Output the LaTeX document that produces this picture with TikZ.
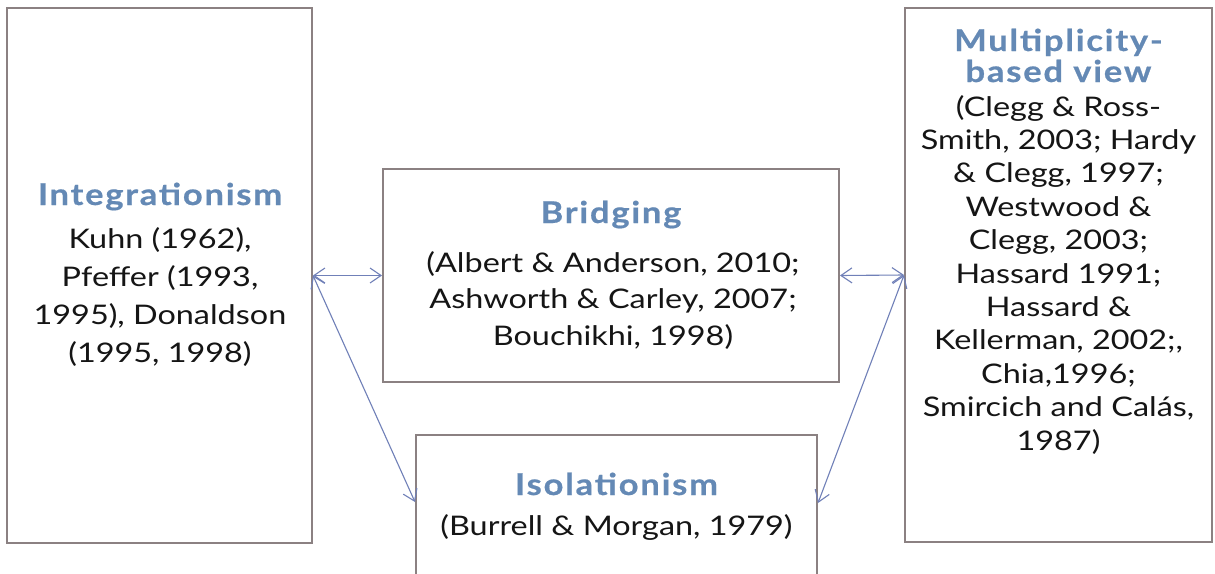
\documentclass[tikz,border=0pt]{standalone}
\usepackage{fontspec}
\setmainfont{Lato}[FakeStretch=1.2]
\newfontfamily\titlefont{Lato}[FakeStretch=1.15,LetterSpace=6,FakeBold=0.6]
\usetikzlibrary{arrows.meta}
\definecolor{boxc}{HTML}{8B8182}
\definecolor{titlec}{HTML}{6489B5}
\definecolor{arrowc}{HTML}{7080B8}
\definecolor{textc}{HTML}{151515}
\tikzset{
  box/.style={draw=boxc, line width=2pt, fill=white, inner sep=0pt},
  ttl/.style={anchor=base, align=center, text=titlec, inner sep=0pt,
              font={\titlefont\bfseries\fontsize{30}{31}\selectfont}},
  bodytxt/.style={anchor=base, align=center, text=textc, inner sep=0pt},
  conn/.style={draw=arrowc, line width=1.1pt,
    {Straight Barb[length=11pt,width=15pt]}-{Straight Barb[length=11pt,width=15pt]}}
}
\begin{document}
\begin{tikzpicture}[x=1pt,y=-1pt]
\useasboundingbox (0,0) rectangle (1215,573);
\clip (0,0) rectangle (1215,573);
\fill[white] (0,0) rectangle (1215,573);
% boxes
\node[box, minimum width=305pt, minimum height=535pt] (lb) at (159.5,275.5) {};
\node[box, minimum width=456pt, minimum height=213pt] (br) at (611,275.5) {};
\node[box, minimum width=307pt, minimum height=534pt] (rb) at (1058.5,275) {};
\node[box, minimum width=401pt, minimum height=185pt] (iso) at (616.5,527.5) {};
% texts (anchor base = baseline of the last line)
\node[ttl] (lt) at (160,205) {Integrationism};
\node[bodytxt, font={\fontsize{27}{38}\selectfont}] (lbody) at (160,362)
  {Kuhn (1962),\\Pfeffer (1993,\\1995), Donaldson\\(1995, 1998)};
\node[ttl] (bt) at (611,223) {Bridging};
\node[bodytxt, font={\fontsize{27}{36.5}\selectfont}] (bbody) at (613,345)
  {(Albert \& Anderson, 2010;\\Ashworth \& Carley, 2007;\\Bouchikhi, 1998)};
\node[ttl] (rt) at (1058.5,82) {Multiplicity-\\based view};
\node[bodytxt, font={\fontsize{27}{33.4}\selectfont}] (rbody) at (1058.5,450)
  {(Clegg \& Ross-\\Smith, 2003; Hardy\\\& Clegg, 1997;\\Westwood \&\\Clegg, 2003;\\Hassard 1991;\\Hassard \&\\Kellerman, 2002;,\\Chia,1996;\\Smircich and Calás,\\1987)};
\node[ttl] (it) at (616.5,495) {Isolationism};
\node[bodytxt, font={\fontsize{27}{33}\selectfont}] (ibody) at (616.5,535)
  {(Burrell \& Morgan, 1979)};
% connectors
\coordinate (yL) at (0,502);
\coordinate (yR) at (0,503);
\coordinate (isoL) at (iso.west |- yL);
\coordinate (isoR) at (iso.east |- yR);
\draw[conn] (lb.east) -- (br.west);
\draw[conn] (br.east) -- (rb.west);
\draw[conn] (lb.east) -- (isoL);
\draw[conn] (rb.west) -- (isoR);
\end{tikzpicture}
\end{document}
